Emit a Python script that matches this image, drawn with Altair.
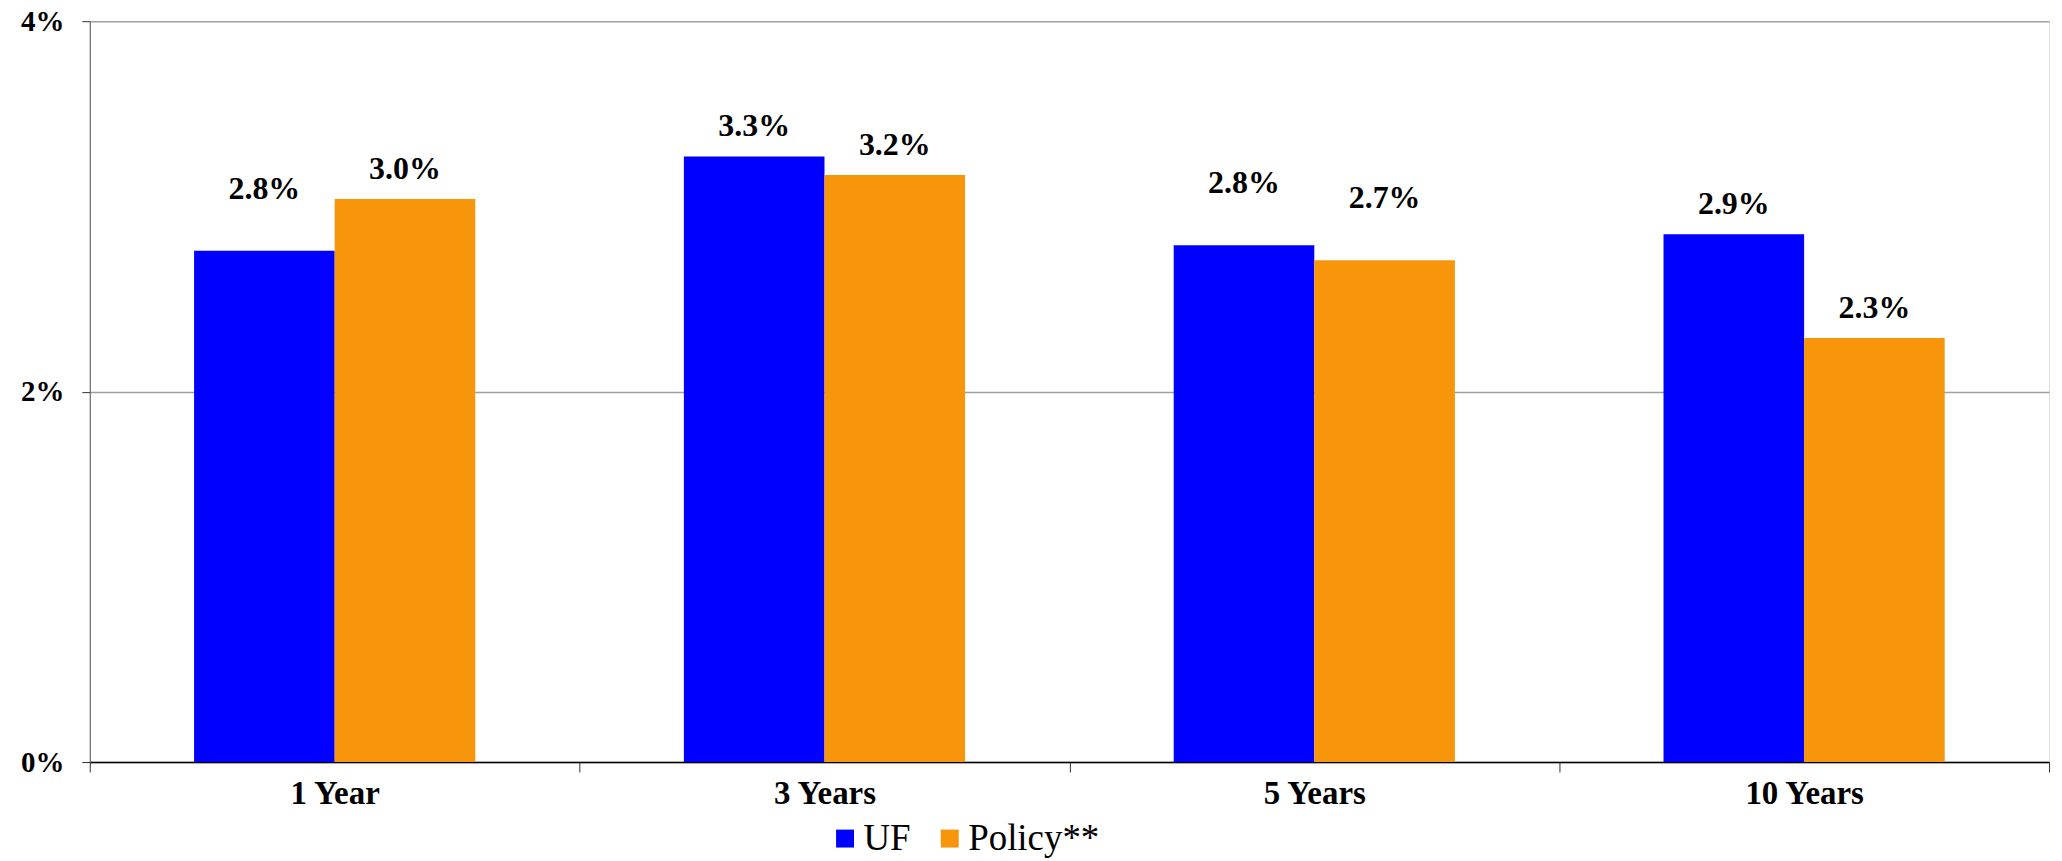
import altair as alt
import pandas as pd

categories = ["1 Year", "3 Years", "5 Years", "10 Years"]
series = ["UF", "Policy**"]
uf_values = [2.76, 3.27, 2.79, 2.85]
policy_values = [3.04, 3.17, 2.71, 2.29]
uf_labels = ["2.8%", "3.3%", "2.8%", "2.9%"]
policy_labels = ["3.0%", "3.2%", "2.7%", "2.3%"]
raised_labels = [("1 Year", "UF"), ("5 Years", "UF"), ("5 Years", "Policy**")]
y_ticks = [0, 2, 4]
colors = ["#0000FF", "#F7960A"]

rows = []
for c, v, l in zip(categories, uf_values, uf_labels):
    rows.append({"cat": c, "series": "UF", "value": v, "label": l})
for c, v, l in zip(categories, policy_values, policy_labels):
    rows.append({"cat": c, "series": "Policy**", "value": v, "label": l})
df = pd.DataFrame(rows)
df["raised"] = [(r.cat, r.series) in raised_labels for r in df.itertuples()]

FONT = "Liberation Serif, Times New Roman, serif"

x = alt.X("cat:N", sort=categories, title=None,
          scale=alt.Scale(paddingInner=0, paddingOuter=0),
          axis=alt.Axis(labelFont=FONT, labelFontWeight="bold", labelFontSize=33,
                        labelColor="black", labelAngle=0, labelPadding=6,
                        tickBand="extent", tickSize=10, tickColor="#333333",
                        domainColor="black", domainWidth=1.5, grid=False))
xo = alt.XOffset("series:N", sort=series,
                 scale=alt.Scale(domain=series, paddingOuter=0.742, paddingInner=0))
y = alt.Y("value:Q", title=None,
          scale=alt.Scale(domain=[0, 4], nice=False),
          axis=alt.Axis(values=y_ticks, labelExpr="datum.value + '%'",
                        labelFont=FONT, labelFontWeight="bold", labelFontSize=29,
                        labelColor="black", labelPadding=18, tickSize=8,
                        tickColor="#333333", domainColor="#555555",
                        grid=True, gridColor="#a0a0a0", gridWidth=1.5))
color = alt.Color("series:N", sort=series,
                  scale=alt.Scale(domain=series, range=colors),
                  legend=alt.Legend(title=None, orient="none", direction="horizontal",
                                    legendX=739, legendY=801,
                                    symbolType="square", symbolSize=324,
                                    symbolStrokeWidth=0, labelFont=FONT,
                                    labelFontSize=37, labelColor="black",
                                    labelOffset=0, columnPadding=20, padding=0))

base = alt.Chart(df)
bars = base.mark_bar().encode(x=x, xOffset=xo, y=y, color=color)

text_low = base.transform_filter("!datum.raised").mark_text(
    font=FONT, fontWeight="bold", fontSize=32, color="black",
    baseline="middle", align="center", dy=-30
).encode(x=alt.X("cat:N", sort=categories), xOffset=xo, y="value:Q", text="label:N")

text_high = base.transform_filter("datum.raised").mark_text(
    font=FONT, fontWeight="bold", fontSize=32, color="black",
    baseline="middle", align="center", dy=-62
).encode(x=alt.X("cat:N", sort=categories), xOffset=xo, y="value:Q", text="label:N")

chart = alt.layer(bars, text_low, text_high).properties(
    width=1965, height=743,
    autosize=alt.AutoSizeParams(type="none"),
    padding={"left": 82, "top": 12, "right": 5, "bottom": 97},
).configure_view(stroke=None).configure(background="white")

chart.save("out.html", embed_options={"renderer": "svg", "actions": False})
